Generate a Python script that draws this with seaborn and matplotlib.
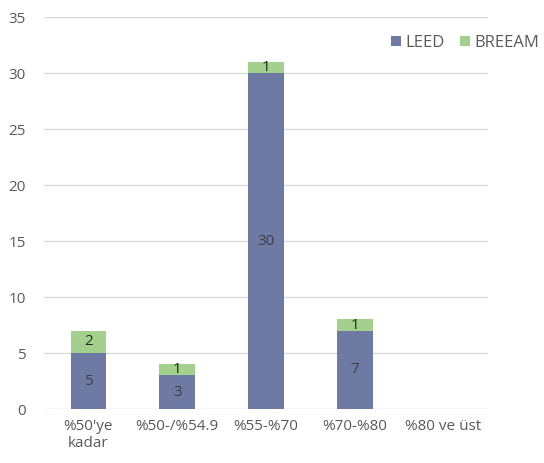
import matplotlib
matplotlib.use("Agg")
import matplotlib.pyplot as plt
import seaborn as sns
import pandas as pd

categories = ["%50'ye\nkadar", "%50-/%54.9", "%55-%70", "%70-%80", "%80 ve üst"]
leed = [5, 3, 30, 7, 0]
breeam = [2, 1, 1, 1, 0]
y_ticks = [0, 5, 10, 15, 20, 25, 30, 35]

LEED_COLOR = "#6E7AA3"
BREEAM_COLOR = "#A3D08C"
TEXT_COLOR = "#595959"

sns.set_theme(style="white")
plt.rcParams["font.family"] = ["Open Sans", "DejaVu Sans"]

df = pd.DataFrame({"category": categories, "LEED": leed, "BREEAM": breeam})

fig = plt.figure(figsize=(5.44, 4.63), dpi=100)
ax = fig.add_axes([0.081, 0.1166, 0.816, 0.8464])

sns.barplot(data=df, x="category", y="LEED", color=LEED_COLOR, width=0.4,
            saturation=1, linewidth=0, ax=ax, label="LEED")
sns.barplot(data=df, x="category", y="BREEAM", color=BREEAM_COLOR, width=0.4,
            saturation=1, linewidth=0, ax=ax, bottom=df["LEED"], label="BREEAM")
if ax.get_legend() is not None:
    ax.get_legend().remove()

# value labels centred in each segment
for i, (l, b) in enumerate(zip(leed, breeam)):
    if l > 0:
        ax.text(i, l / 2, str(l), ha="center", va="center", fontsize=11, color="#404040")
    if b > 0:
        ax.text(i, l + b / 2, str(b), ha="center", va="center", fontsize=11, color="#262626")

ax.set_ylim(0, 35)
ax.set_yticks(y_ticks)
ax.set_xlim(-0.5, len(categories) - 0.5)
ax.yaxis.grid(True, color="#D9D9D9", linewidth=1)
ax.set_axisbelow(True)
for s in ax.spines.values():
    s.set_visible(False)
ax.tick_params(axis="both", length=0, colors=TEXT_COLOR, labelsize=11)
ax.tick_params(axis="y", pad=13)
ax.tick_params(axis="x", pad=7)
ax.set_xlabel("")
ax.set_ylabel("")

handles, labels = ax.get_legend_handles_labels()
fig.legend(handles, labels, loc="center right", bbox_to_anchor=(0.992, 0.907),
           ncol=2, frameon=False, fontsize=12, handlelength=0.6, handleheight=0.6,
           handletextpad=0.3, columnspacing=0.9, labelcolor=TEXT_COLOR,
           borderaxespad=0, borderpad=0)

fig.savefig("out.png", dpi=100, facecolor="white")
